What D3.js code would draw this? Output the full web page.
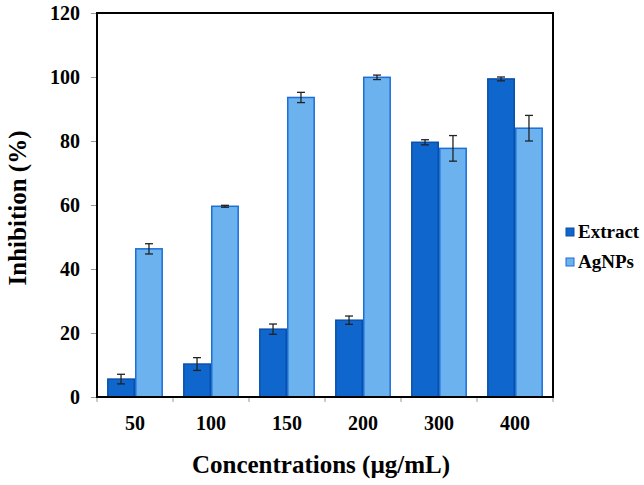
<!DOCTYPE html>
<html><head><meta charset="utf-8">
<script src="https://cdn.jsdelivr.net/npm/d3@7"></script>
<style>body{margin:0;background:#fff}</style>
</head><body>
<svg id="c" width="644" height="485"></svg>
<script>
const categories = ["50","100","150","200","300","400"];
const seriesNames = ["Extract","AgNPs"];
const extractValues = [5.6, 10.3, 21.2, 24.0, 79.6, 99.4];
const extractErrors = [1.5, 2.0, 1.6, 1.3, 0.8, 0.6];
const agnpValues = [46.3, 59.6, 93.6, 99.9, 77.7, 84.0];
const agnpErrors = [1.6, 0.3, 1.6, 0.7, 4.0, 4.0];
const yTicks = [0,20,40,60,80,100,120];

const fills = {"Extract":"#0f66cc","AgNPs":"#6cb2ee"};
const strokes = {"Extract":"#0a4fa8","AgNPs":"#1a6fd8"};

const svg = d3.select("#c");
const m = {l:97, t:13, r:553, b:397};
const x = d3.scaleBand().domain(categories).range([m.l, m.r]).paddingInner(0).paddingOuter(0);
const x1 = d3.scaleBand().domain(seriesNames).range([0, x.bandwidth()]).paddingInner(0).paddingOuter(0.36);
const y = d3.scaleLinear().domain([0,120]).range([m.b, m.t]);

const font = "'Liberation Serif','Times New Roman',serif";

// y axis ticks
const ya = svg.append("g").attr("transform",`translate(${m.l},0)`)
  .call(d3.axisLeft(y).tickValues(yTicks).tickSize(6).tickPadding(11));
ya.select(".domain").remove();
ya.selectAll("line").attr("stroke","#999");
ya.selectAll("text").attr("font-family",font).attr("font-weight","bold").attr("font-size","20px").attr("fill","#000");

// x axis ticks at boundaries
const xa = svg.append("g").attr("transform",`translate(0,${m.b})`)
  .call(d3.axisBottom(x).tickSize(0).tickPadding(19));
xa.select(".domain").remove();
xa.selectAll("text").attr("font-family",font).attr("font-weight","bold").attr("font-size","20px").attr("fill","#000");
const bounds = categories.map(c=>x(c)).concat([m.r]);
svg.append("g").selectAll("line").data(bounds).join("line")
  .attr("x1",d=>d).attr("x2",d=>d).attr("y1",m.b).attr("y2",m.b+5).attr("stroke","#999");

// bars
const data = [];
categories.forEach((c,i)=>{
  data.push({c, s:"Extract", v:extractValues[i], e:extractErrors[i]});
  data.push({c, s:"AgNPs", v:agnpValues[i], e:agnpErrors[i]});
});
const g = svg.append("g");
g.selectAll("rect").data(data).join("rect")
  .attr("x",d=>x(d.c)+x1(d.s)+0.75)
  .attr("y",d=>y(d.v))
  .attr("width",x1.bandwidth()-1.5)
  .attr("height",d=>m.b-y(d.v))
  .attr("fill",d=>fills[d.s])
  .attr("stroke",d=>strokes[d.s])
  .attr("stroke-width",1.5);

// error bars
const eg = svg.append("g").attr("stroke","#222").attr("stroke-width",1.3);
data.forEach(d=>{
  const cx = x(d.c)+x1(d.s)+x1.bandwidth()/2;
  eg.append("line").attr("x1",cx).attr("x2",cx).attr("y1",y(d.v+d.e)).attr("y2",y(d.v-d.e));
  eg.append("line").attr("x1",cx-4).attr("x2",cx+4).attr("y1",y(d.v+d.e)).attr("y2",y(d.v+d.e));
  eg.append("line").attr("x1",cx-4).attr("x2",cx+4).attr("y1",y(d.v-d.e)).attr("y2",y(d.v-d.e));
});

// frame
svg.append("rect").attr("x",m.l).attr("y",m.t).attr("width",m.r-m.l).attr("height",m.b-m.t)
  .attr("fill","none").attr("stroke","#000").attr("stroke-width",2);

// axis titles
svg.append("text").attr("x",321).attr("y",473).attr("text-anchor","middle")
  .attr("font-family",font).attr("font-weight","bold").attr("font-size","25px").text("Concentrations (µg/mL)");
svg.append("text").attr("transform","translate(26,208) rotate(-90)").attr("text-anchor","middle")
  .attr("font-family",font).attr("font-weight","bold").attr("font-size","25px").text("Inhibition (%)");

// legend
const lg = svg.append("g");
seriesNames.forEach((s,i)=>{
  const yy = 232 + i*30;
  lg.append("rect").attr("x",566).attr("y",yy-4).attr("width",8).attr("height",8)
    .attr("fill",fills[s]).attr("stroke",strokes[s]).attr("stroke-width",1);
  lg.append("text").attr("x",578).attr("y",yy+6).attr("font-family",font).attr("font-weight","bold")
    .attr("font-size","19px").text(s);
});
</script>
</body></html>
